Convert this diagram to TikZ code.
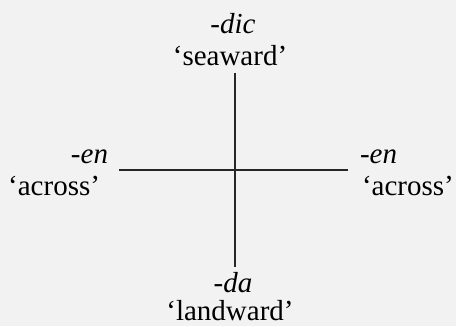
\documentclass[tikz,border=0pt]{standalone}
\usepackage{fontspec}
\setmainfont{Liberation Serif}
\begin{document}
\begin{tikzpicture}[x=1bp,y=-1bp,
  lbl/.style={inner sep=0pt,outer sep=0pt,font=\fontsize{29bp}{30bp}\selectfont,text=black},
  axis/.style={line width=2.7bp,draw=black!85}]
\fill[black!5] (0,0) rectangle (456,326);
\useasboundingbox (0,0) rectangle (456,326);
% axes
\coordinate (top) at (235,73);
\coordinate (bot) at (235,267);
\coordinate (lft) at (119,170);
\coordinate (rgt) at (348,170);
\draw[axis] (top) -- (bot);
\draw[axis] (lft) -- (rgt);
% labels
\node[lbl,anchor=base] (dic) at (233,33) {\itshape -dic};
\node[lbl,anchor=base] (sea) at (230,65) {‘seaward’};
\node[lbl,anchor=base east] (enl) at (108,163) {\itshape -en};
\node[lbl,anchor=base east] (acl) at (100,195) {‘across’};
\node[lbl,anchor=base west] (enr) at (360,163) {\itshape -en};
\node[lbl,anchor=base west] (acr) at (362,195) {‘across’};
\node[lbl,anchor=base] (da) at (233,292) {\itshape -da};
\node[lbl,anchor=base] (land) at (230,320) {‘landward’};
\end{tikzpicture}
\end{document}
